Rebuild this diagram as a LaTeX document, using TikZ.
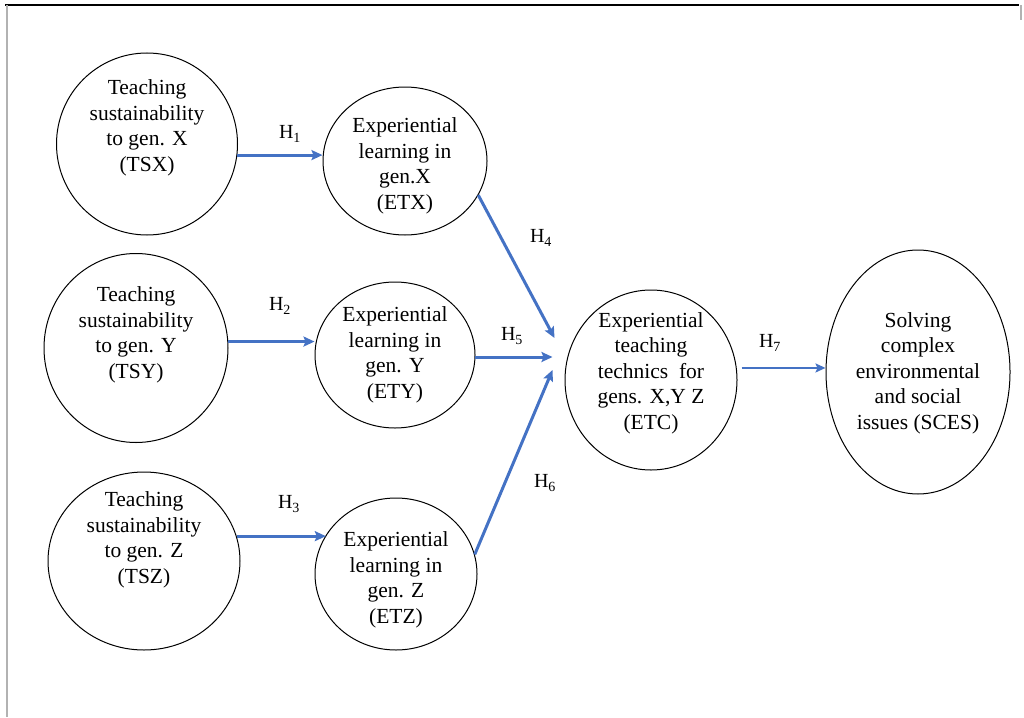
\documentclass[tikz,border=0pt]{standalone}
\usepackage{fontspec}
\setmainfont{Liberation Serif}
\usetikzlibrary{shapes.geometric,arrows.meta,calc}
\definecolor{arrblue}{RGB}{68,114,196}
\begin{document}
\begin{tikzpicture}[x=1pt,y=-1pt,
  oval/.style={ellipse,draw=black,line width=1pt,inner sep=0pt},
  txt/.style={align=center,font=\rmfamily\fontsize{21.5}{25.5}\selectfont,inner sep=0pt},
  hyp/.style={font=\rmfamily\fontsize{20}{22}\selectfont,inner sep=0pt},
  link/.style={draw=arrblue,line width=3pt,-{Stealth[length=11pt,width=10pt,inset=2pt]}},
  thinlink/.style={draw=arrblue,line width=2pt,-{Stealth[length=10pt,width=9pt,inset=2pt]}}]
\useasboundingbox (0,0) rectangle (1024,717);
% frame
\draw[line width=2pt] (5,5) -- (1019,5);
\draw[gray!60,line width=2pt] (7,5) -- (7,717);
\draw[gray!60,line width=1.5pt] (1021,5) -- (1021,20);
% ellipses
\node[oval,minimum width=181pt,minimum height=182pt] (tsx) at (147,144) {};
\node[txt] (tsxt) at (147,128) {Teaching\\sustainability\\to gen. X\\(TSX)};
\node[oval,minimum width=184pt,minimum height=189pt] (tsy) at (136,348) {};
\node[txt] (tsyt) at (136,335) {Teaching\\sustainability\\to gen. Y\\(TSY)};
\node[oval,minimum width=192pt,minimum height=178pt] (tsz) at (144,561) {};
\node[txt] (tszt) at (144,540) {Teaching\\sustainability\\to gen. Z\\(TSZ)};
\node[oval,minimum width=164pt,minimum height=148pt] (etx) at (405,161) {};
\node[txt] (etxt) at (405,166) {Experiential\\learning in\\gen.X\\(ETX)};
\node[oval,minimum width=160pt,minimum height=146pt] (ety) at (395,355) {};
\node[txt] (etyt) at (395,355) {Experiential\\learning in\\gen. Y\\(ETY)};
\node[oval,minimum width=162pt,minimum height=152pt] (etz) at (396,574) {};
\node[txt] (etzt) at (396,580) {Experiential\\learning in\\gen. Z\\(ETZ)};
\node[oval,minimum width=172pt,minimum height=180pt] (etc) at (651,380) {};
\node[txt] (etct) at (651,373) {Experiential\\teaching\\technics\ \ for\\gens. X,Y Z\\(ETC)};
\node[oval,minimum width=184pt,minimum height=244pt] (sces) at (918,372) {};
\node[txt] (scest) at (918,373) {Solving\\complex\\environmental\\and social\\issues (SCES)};
% arrow tips near ETC
\coordinate (in4) at ($(etc.west)+(-10,-42)$);
\coordinate (in5) at ($(etc.west)+(-12,-23)$);
\coordinate (in6) at ($(etc.west)+(-12,-10)$);
% connectors
\draw[link] (tsx.-7) -- (tsx.-7 -| etx.west);
\draw[link] (tsy.4) -- (tsy.4 -| ety.west);
\draw[link] (tsz.15) -- (tsz.15 -| etz.151);
\draw[link] (etx.-25) -- (in4);
\draw[link] (ety.-2 |- in5) -- (in5);
\draw[link] (etz.14) -- (in6);
\draw[thinlink,shorten <=5pt] (etc.8) -- (etc.8 -| sces.west);
% labels
\node[hyp] (h1) at (290,134) {H\textsubscript{1}};
\node[hyp] (h2) at (280,306) {H\textsubscript{2}};
\node[hyp] (h3) at (289,504) {H\textsubscript{3}};
\node[hyp] (h4) at (541,238) {H\textsubscript{4}};
\node[hyp] (h5) at (512,336) {H\textsubscript{5}};
\node[hyp] (h6) at (545,483) {H\textsubscript{6}};
\node[hyp] (h7) at (770,343) {H\textsubscript{7}};
\end{tikzpicture}
\end{document}
